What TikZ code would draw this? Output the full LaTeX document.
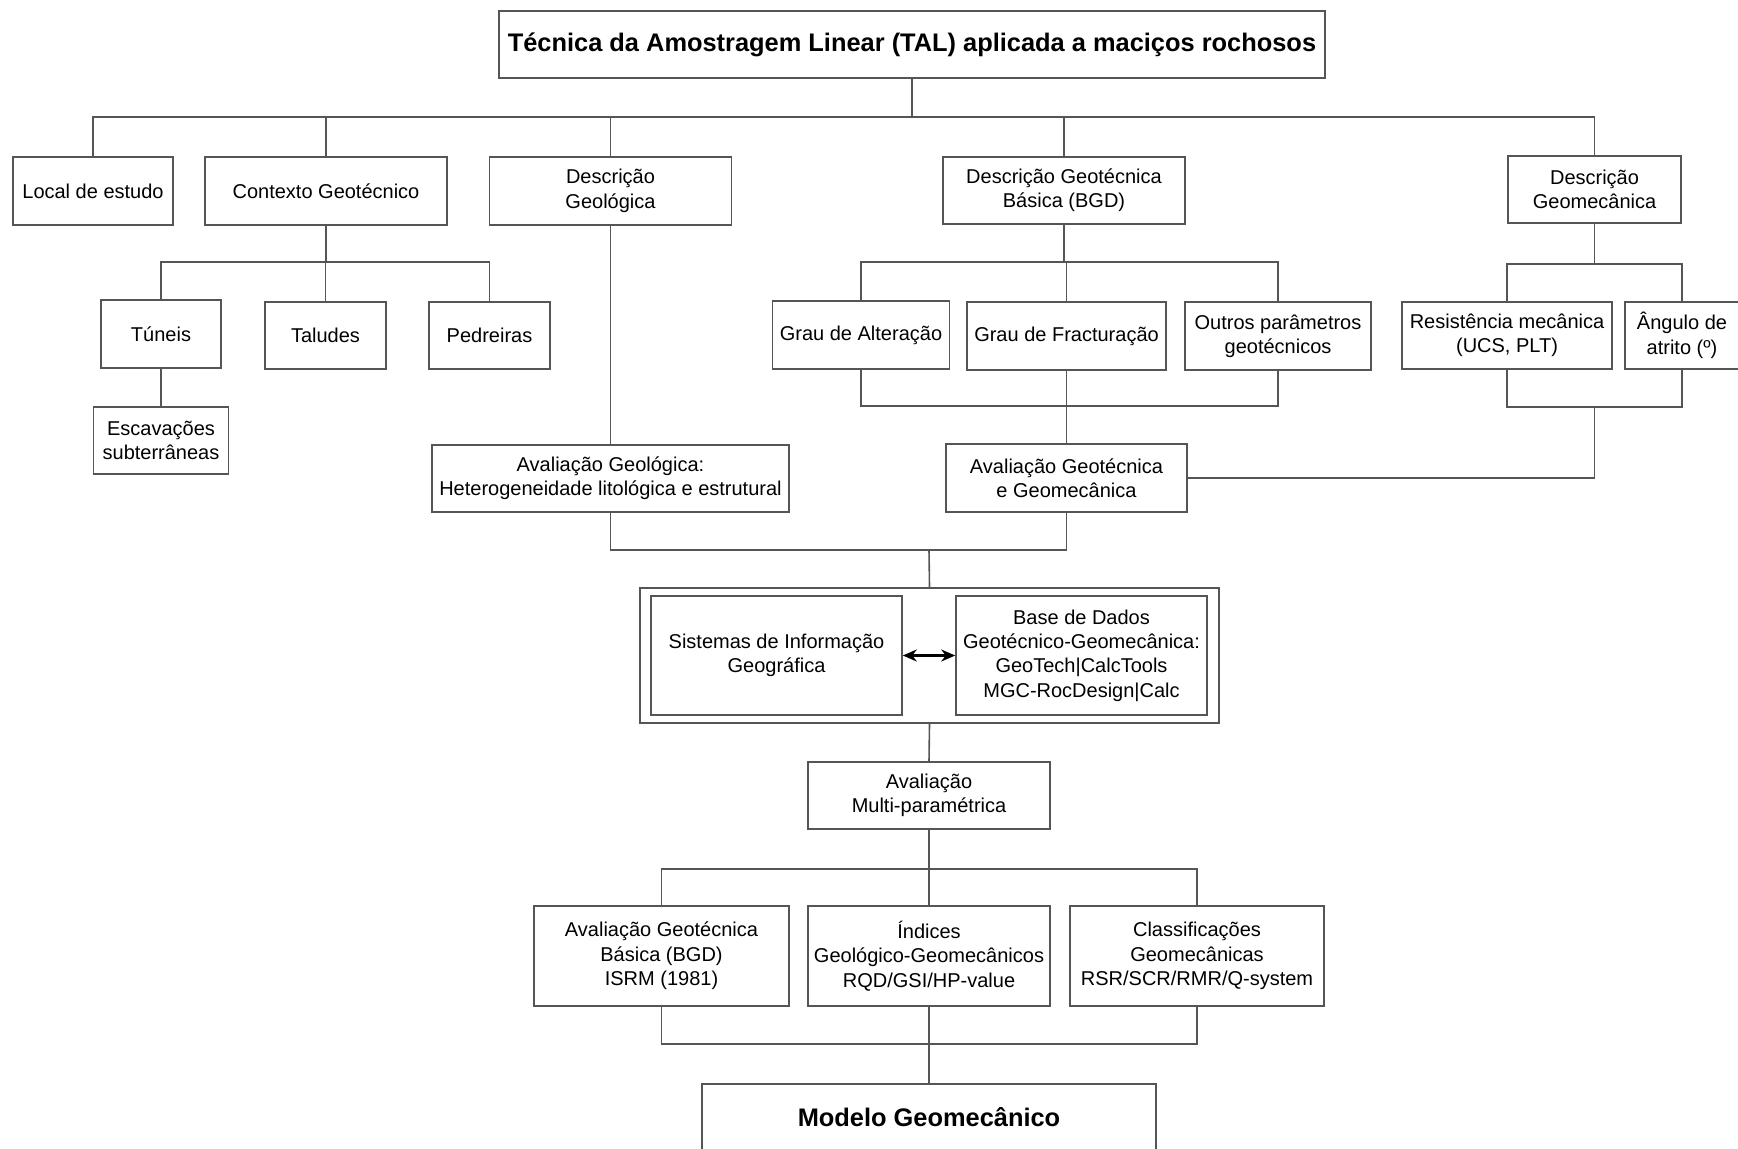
\documentclass[tikz,border=0pt]{standalone}
\usepackage{fontspec}
\setmainfont{Liberation Sans}
\usepackage{xcolor}
\definecolor{linegray}{RGB}{85,85,85}
\usetikzlibrary{arrows.meta,positioning}

\begin{document}
\begin{tikzpicture}[x=0.5pt, y=-0.5pt, >=Stealth,
    box/.style={draw=linegray, line width=0.8pt, align=center, inner sep=2pt, font=\fontsize{10}{12.2}\selectfont},
    sz/.style 2 args={minimum width=#1*0.5pt, minimum height=#2*0.5pt},
    link/.style={draw=linegray, line width=0.8pt}]
    \useasboundingbox (0,0) rectangle (1738,1149);
    \clip (0,0) rectangle (1738,1149);

    % Title
    \node[box, sz={826}{67}, font=\fontsize{12.7}{15}\selectfont\bfseries] (tal) at (912,44.5) {Técnica da Amostragem Linear (TAL) aplicada a maciços rochosos};

    % First level
    \node[box, sz={160}{68}] (local) at (93,191) {Local de estudo};
    \node[box, sz={242}{68}] (contexto) at (326,191) {Contexto Geotécnico};
    \node[box, sz={242}{68}] (descgeol) at (610.5,191) {Descrição\\Geológica};
    \node[box, sz={242}{67}] (descbgd) at (1064,190.5) {Descrição Geotécnica\\Básica (BGD)};
    \node[box, sz={173}{67}] (descgeomec) at (1594.5,189.5) {Descrição\\Geomecânica};

    % Geotechnical context
    \node[box, sz={120}{68}] (tuneis) at (161,334) {Túneis};
    \node[box, sz={121}{67}] (taludes) at (325.5,335.5) {Taludes};
    \node[box, sz={121}{67}] (pedreiras) at (489.5,335.5) {Pedreiras};
    \node[box, sz={135}{67}] (escav) at (161,440.5) {Escavações\\subterrâneas};

    % BGD parameters
    \node[box, sz={177}{68}] (alter) at (861,335) {Grau de Alteração};
    \node[box, sz={199}{68}] (fract) at (1066.5,336) {Grau de Fracturação};
    \node[box, sz={186}{68}] (outros) at (1278,336) {Outros parâmetros\\geotécnicos};

    % Geomechanical parameters
    \node[box, sz={210}{67}] (resist) at (1507,335.5) {Resistência mecânica\\(UCS, PLT)};
    \node[box, sz={114}{67}] (angulo) at (1682,335.5) {Ângulo de\\atrito (º)};

    % Evaluations
    \node[box, sz={357}{67}] (avgeol) at (610.5,478.5) {Avaliação Geológica:\\Heterogeneidade litológica e estrutural};
    \node[box, sz={241}{68}] (avgeot) at (1066.5,478) {Avaliação Geotécnica\\e Geomecânica};

    % GIS and database
    \node[box, sz={579}{135}] (sigbd) at (929.5,655.5) {};
    \node[box, sz={251}{119}] (sig) at (776.5,655.5) {Sistemas de Informação\\Geográfica};
    \node[box, sz={251}{119}] (bd) at (1081.5,655.5) {Base de Dados\\Geotécnico-Geomecânica:\\GeoTech|CalcTools\\MGC-RocDesign|Calc};
    \node[box, sz={242}{67}] (multi) at (929,795.5) {Avaliação\\Multi-paramétrica};

    % Results
    \node[box, sz={255}{100}] (isrm) at (661.5,956) {Avaliação Geotécnica\\Básica (BGD)\\ISRM (1981)};
    \node[box, sz={242}{100}] (indices) at (929,956) {Índices\\Geológico-Geomecânicos\\RQD/GSI/HP-value};
    \node[box, sz={254}{100}] (classif) at (1197,956) {Classificações\\Geomecânicas\\RSR/SCR/RMR/Q-system};
    \node[box, sz={454}{66}, font=\fontsize{12.7}{15}\selectfont\bfseries] (modelo) at (929,1117) {Modelo Geomecânico};

    % Bus points
    \coordinate (b0) at (912,117);
    \coordinate (b1) at (326,262);
    \coordinate (b2) at (1064,262);
    \coordinate (b3) at (1066.5,406);
    \coordinate (b4) at (1594.5,264);
    \coordinate (b5) at (1594.5,407);
    \coordinate (b6) at (929,550);
    \coordinate (b7) at (929,869);
    \coordinate (b8) at (929,1044);

    % Connectors
    \foreach \n in {local,contexto,descgeol,descbgd,descgeomec}
        \draw[link] (tal.south) -- (b0) -| (\n.north);
    \foreach \n in {tuneis,taludes,pedreiras}
        \draw[link] (contexto.south) -- (b1) -| (\n.north);
    \draw[link] (tuneis) -- (escav);
    \foreach \n in {alter,fract,outros} {
        \draw[link] (descbgd.south) -- (b2) -| (\n.north);
        \draw[link] (\n.south) |- (b3);
    }
    \draw[link] (b3) -- (avgeot.north);
    \foreach \n in {resist,angulo} {
        \draw[link] (descgeomec.south) -- (b4) -| (\n.north);
        \draw[link] (\n.south) |- (b5);
    }
    \draw[link] (b5) |- (avgeot.east);
    \draw[link] (descgeol) -- (avgeol);
    \draw[link] (avgeol.south) |- (b6);
    \draw[link] (avgeot.south) |- (b6);
    \draw[link] (b6) -- (sigbd.north);
    \draw[<->, line width=1.1pt, >={Stealth[length=7pt,width=6pt]}] (sig) -- (bd);
    \draw[link] (sigbd.south) -- (multi.north);
    \foreach \n in {isrm,indices,classif} {
        \draw[link] (multi.south) -- (b7) -| (\n.north);
        \draw[link] (\n.south) |- (b8);
    }
    \draw[link] (b8) -- (modelo.north);
\end{tikzpicture}
\end{document}
